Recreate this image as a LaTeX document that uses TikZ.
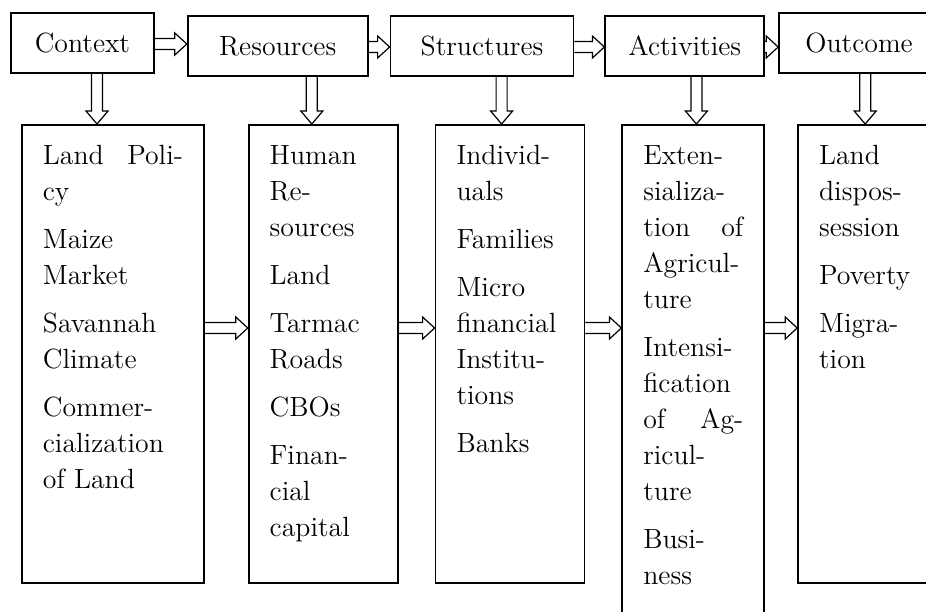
\documentclass[tikz,border=0pt]{standalone}
\usepackage{fontspec}
\usepackage{tikz}
\usetikzlibrary{positioning,calc}

\begin{document}
\begin{tikzpicture}[
    head/.style={draw, rectangle, line width=0.9pt, inner sep=0pt, minimum height=30pt, font=\fontsize{13.9}{18}\selectfont},
    list/.style={draw, rectangle, line width=0.9pt, align=left, inner xsep=10.5pt, inner ysep=10pt, text height=10pt, text depth=199pt, font=\fontsize{13.9}{18}\selectfont},
    rarrow/.style={line width=0.6pt, to path={let \p1=($(\tikztostart.north east)+(0,-#1)$), \p2=(\tikztotarget.west) in
      (\x1,\y1+2.75pt) -- (\x2-6pt,\y1+2.75pt) -- (\x2-6pt,\y1+5.5pt) -- (\x2,\y1)
      -- (\x2-6pt,\y1-5.5pt) -- (\x2-6pt,\y1-2.75pt) -- (\x1,\y1-2.75pt)}},
    darrow/.style={line width=0.6pt, to path={let \p1=($(\tikztostart.south west)+(#1,0)$), \p2=(\tikztotarget.north) in
      (\x1-2.75pt,\y1) -- (\x1-2.75pt,\y2+6.5pt) -- (\x1-5.5pt,\y2+6.5pt) -- (\x1,\y2)
      -- (\x1+5.5pt,\y2+6.5pt) -- (\x1+2.75pt,\y2+6.5pt) -- (\x1+2.75pt,\y1)}}
  ]
    \useasboundingbox (0,0) rectangle (463pt,-305.5pt);
    \clip (0,0) rectangle (463pt,-305.5pt);

    \node (context) [head, minimum width=71.5pt, anchor=north west] at (5pt,-6pt) {Context};
    \node (resources) [head, minimum width=90pt, right=16pt of context, yshift=-1.5pt] {Resources};
    \node (structures) [head, minimum width=91.5pt, right=10.5pt of resources] {Structures};
    \node (activities) [head, minimum width=79.5pt, right=15pt of structures] {Activities};
    \node (outcome) [head, minimum width=80pt, right=6.5pt of activities, yshift=1.5pt] {Outcome};

    \node (contextlist) [list, text width=70pt, anchor=north west] at (10.5pt,-62pt)
      {Land\hfill Poli-\\ cy\\[6pt] Maize\\ Market\\[6pt] Savannah\\ Climate\\[6pt] Commer-\\ cialization\\ of Land};
    \node (resourcelist) [list, text width=53.5pt, right=21.5pt of contextlist]
      {Human\\ Re-\\ sources\\[6pt] Land\\[6pt] Tarmac\\ Roads\\[6pt] CBOs\\[6pt] Finan-\\ cial\\ capital};
    \node (structurelist) [list, text width=53.5pt, right=18pt of resourcelist]
      {Individ-\\ uals\\[6pt] Families\\[6pt] Micro\\ financial\\ Institu-\\ tions\\[6pt] Banks};
    \node (activitylist) [list, text width=50pt, text depth=230pt, right=18pt of structurelist.north east, anchor=north west]
      {Exten-\\ sializa-\\ tion\hfill of\\ Agricul-\\ ture\\[6pt] Intensi-\\ fication\\ of\hfill Ag-\\ ricul-\\ ture\\[6pt] Busi-\\ ness};
    \node (outcomelist) [list, text width=50pt, right=16pt of activitylist.north east, anchor=north west]
      {Land\\ dispos-\\ session\\[6pt] Poverty\\[6pt] Migra-\\ tion};

    \draw [rarrow=16pt] (context) to (resources);
    \draw [rarrow=16pt] (resources) to (structures);
    \draw [rarrow=16pt] (structures) to (activities);
    \draw [rarrow=16pt] (activities) to (outcome);

    \draw [darrow=43.5pt] (context) to (contextlist);
    \draw [darrow=62.5pt] (resources) to (resourcelist);
    \draw [darrow=56pt] (structures) to (structurelist);
    \draw [darrow=46pt] (activities) to (activitylist);
    \draw [darrow=43.5pt] (outcome) to (outcomelist);

    \draw [rarrow=102pt] (contextlist) to (resourcelist);
    \draw [rarrow=102pt] (resourcelist) to (structurelist);
    \draw [rarrow=102pt] (structurelist) to (activitylist);
    \draw [rarrow=102pt] (activitylist) to (outcomelist);
\end{tikzpicture}
\end{document}
